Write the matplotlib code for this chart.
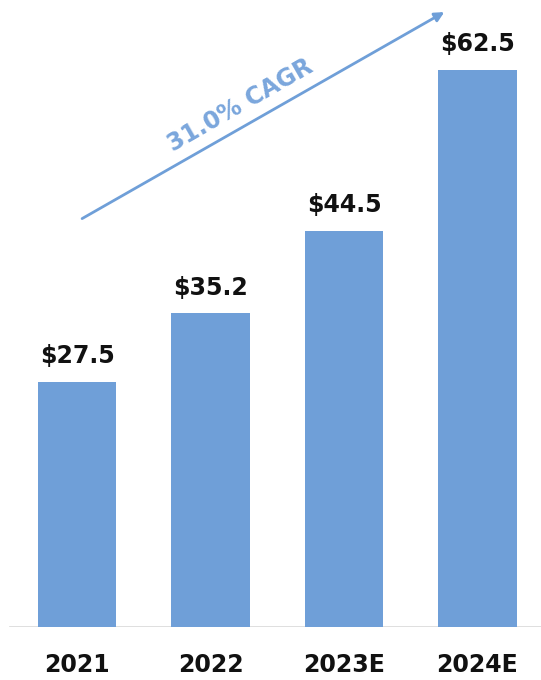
import numpy as np
from matplotlib import pyplot as plt

# datos del grafico
years = ['2021', '2022', '2023E', '2024E']
values = [27.5, 35.2, 44.5, 62.5]
labels = ['$27.5', '$35.2', '$44.5', '$62.5']
cagr = '31.0% CAGR'

azul = '#6f9fd8'

fig = plt.figure(figsize=(5.41, 6.80), dpi=100)
ax = fig.add_axes([0, 0.078, 1, 0.922])

x = np.arange(len(years))
ax.bar(x, values, width=0.585, color=azul, zorder=2)

for i in range(len(values)):
    ax.annotate(labels[i], (x[i], values[i]), xytext=(0, 10), textcoords='offset points',
                ha='center', va='bottom', fontsize=17, fontweight='bold', color='#111111')

ax.set_xlim(-0.577, 3.476)
ax.set_ylim(0, 70.4)

# linea base
ax.axhline(0, xmin=0.018, xmax=1, color='#d9d9d9', lw=1.2, zorder=1)

# flecha CAGR
ax.annotate('', xy=(2.77, 69.2), xytext=(0.02, 45.7),
            arrowprops=dict(arrowstyle='-|>', color=azul, lw=2, mutation_scale=14),
            annotation_clip=False)
ax.text(1.22, 58.6, cagr, rotation=29.8, ha='center', va='center', rotation_mode='anchor',
        fontsize=17, fontweight='bold', color='#7aa6dc')

ax.set_xticks(x)
ax.set_xticklabels(years, fontsize=17, fontweight='bold', color='#111111')
ax.tick_params(axis='x', length=0, pad=19)
ax.set_yticks([])
for s in ax.spines.values():
    s.set_visible(False)

plt.savefig('out.png', dpi=100)
